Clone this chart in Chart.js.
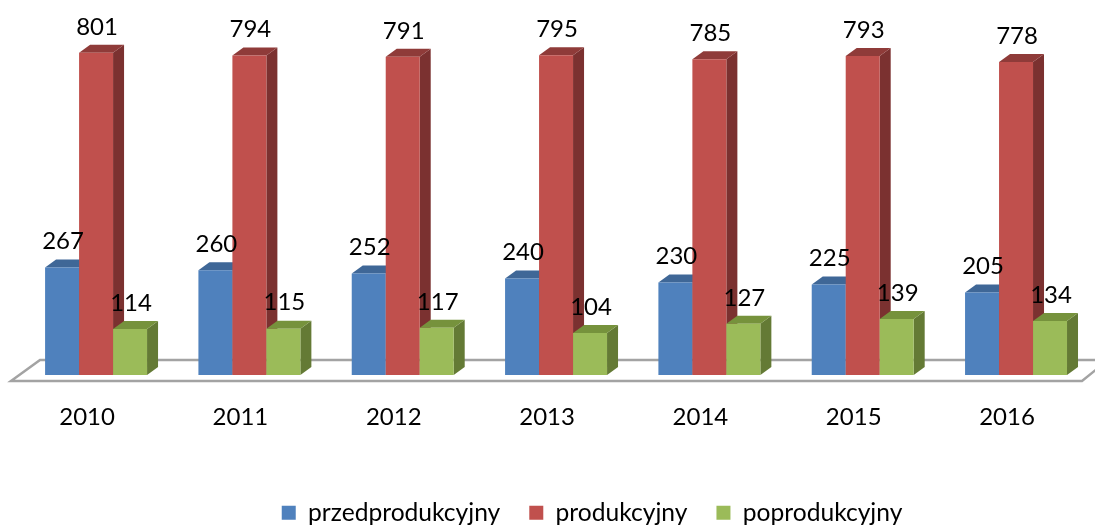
<!DOCTYPE html>
<html>
<head>
<meta charset="utf-8">
<title>Wykres</title>
<script src="https://cdn.jsdelivr.net/npm/chart.js@4"></script>
<style>
  html, body { margin: 0; padding: 0; background: #fff; }
  canvas { display: block; }
</style>
</head>
<body>
<canvas id="myChart" width="1095" height="525"></canvas>
<script>
const years = ['2010', '2011', '2012', '2013', '2014', '2015', '2016'];
const przedprodukcyjny = [267, 260, 252, 240, 230, 225, 205];
const produkcyjny = [801, 794, 791, 795, 785, 793, 778];
const poprodukcyjny = [114, 115, 117, 104, 127, 139, 134];

const frontColors = ['#4f81bd', '#c0504d', '#9bbb59'];
const topColors = ['#3f6797', '#8f3b39', '#76923c'];
const sideColors = ['#375a85', '#7b3130', '#647a35'];

const depthX = 11;
const depthY = 8;
const labelFont = '24px Lato';

// legenda lezy przy dolnej krawedzi i na prawo od srodka
const legendShiftPlugin = {
    id: 'legendShift',
    afterLayout(chart) {
        chart.legend.top += 10;
        chart.legend.bottom += 10;
        chart.legend.left += 36;
        chart.legend.right += 36;
    }
};

// podloga wykresu, rysowana pod slupkami
const floorPlugin = {
    id: 'floor3d',
    beforeDatasetsDraw(chart) {
        const ctx = chart.ctx;
        const bottom = chart.scales.y.bottom;
        ctx.save();
        ctx.strokeStyle = '#a3a3a3';
        ctx.lineWidth = 2.5;
        ctx.beginPath();
        ctx.moveTo(1095, bottom - 15);
        ctx.lineTo(40, bottom - 15);
        ctx.lineTo(11, bottom + 6);
        ctx.lineTo(1082, bottom + 6);
        ctx.lineTo(1097, bottom - 6);
        ctx.stroke();
        ctx.restore();
    }
};

// slupki 3D: bok, gora i przod, od lewej do prawej, potem etykiety
const bars3dPlugin = {
    id: 'bars3d',
    beforeDatasetDraw() {
        return false;
    },
    afterDatasetsDraw(chart) {
        const ctx = chart.ctx;
        ctx.save();
        chart.data.datasets.forEach((ds, i) => {
            chart.getDatasetMeta(i).data.forEach(bar => {
                const p = bar.getProps(['x', 'y', 'base', 'width'], true);
                const l = p.x - p.width / 2;
                const r = p.x + p.width / 2;
                ctx.fillStyle = sideColors[i];
                ctx.beginPath();
                ctx.moveTo(r, p.y);
                ctx.lineTo(r + depthX, p.y - depthY);
                ctx.lineTo(r + depthX, p.base - depthY);
                ctx.lineTo(r, p.base);
                ctx.closePath();
                ctx.fill();
                ctx.fillStyle = topColors[i];
                ctx.beginPath();
                ctx.moveTo(l, p.y);
                ctx.lineTo(l + depthX, p.y - depthY);
                ctx.lineTo(r + depthX, p.y - depthY);
                ctx.lineTo(r, p.y);
                ctx.closePath();
                ctx.fill();
                bar.draw(ctx);
            });
        });
        ctx.font = labelFont;
        ctx.fillStyle = '#000';
        ctx.textAlign = 'center';
        ctx.textBaseline = 'middle';
        chart.data.datasets.forEach((ds, i) => {
            chart.getDatasetMeta(i).data.forEach((bar, j) => {
                ctx.fillText(ds.data[j], bar.x + 1, bar.y - 26);
            });
        });
        ctx.restore();
    }
};

const seriesNames = ['przedprodukcyjny', 'produkcyjny', 'poprodukcyjny'];
const seriesValues = [przedprodukcyjny, produkcyjny, poprodukcyjny];

new Chart(document.getElementById('myChart'), {
    type: 'bar',
    data: {
        labels: years,
        datasets: seriesNames.map((name, i) => ({
            label: name,
            data: seriesValues[i],
            backgroundColor: frontColors[i],
            categoryPercentage: 0.665,
            barPercentage: 1
        }))
    },
    plugins: [legendShiftPlugin, floorPlugin, bars3dPlugin],
    options: {
        responsive: false,
        animation: false,
        layout: { padding: { left: 19.4, right: 2.3, top: 13, bottom: 0 } },
        scales: {
            x: {
                grid: { display: false },
                border: { display: false },
                ticks: {
                    font: { family: 'Lato', size: 24 },
                    color: '#000',
                    padding: 20,
                    labelOffset: -9,
                    maxRotation: 0,
                    autoSkip: false
                },
                afterFit(scale) {
                    scale.height = 86.5;
                }
            },
            y: { display: false, min: 0, max: 900 }
        },
        plugins: {
            tooltip: { enabled: false },
            legend: {
                position: 'bottom',
                labels: {
                    boxWidth: 14,
                    boxHeight: 14,
                    padding: 29,
                    color: '#000',
                    font: { family: 'Lato', size: 24.6 }
                }
            }
        }
    }
});
</script>
</body>
</html>
